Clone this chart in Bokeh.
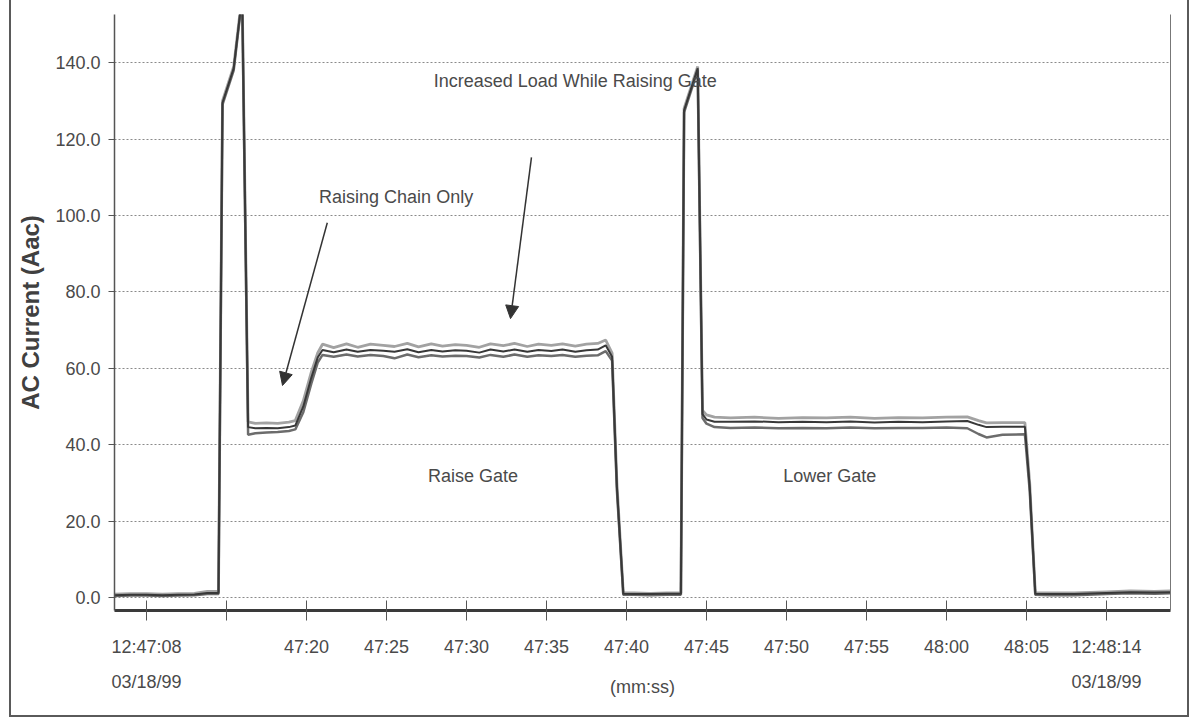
from bokeh.plotting import figure
from bokeh.models import (FixedTicker, LinearAxis, Label, Arrow, NormalHead,
                          Range1d, PrintfTickFormatter)
from bokeh.embed import file_html
from bokeh.resources import INLINE

# time in seconds after 12:47:00 (03/18/99)
t_sec = [8.0, 9.0, 10.0, 11.0, 12.0, 13.0, 13.8, 14.5,
         14.75, 15.45, 15.98,
         16.35, 16.8, 17.5, 18.2, 18.9, 19.3,
         19.8, 20.3, 20.7, 21.0,
         21.7, 22.5, 23.2, 24.0, 24.8, 25.5, 26.3, 27.0, 27.8, 28.5, 29.3, 30.0,
         30.8, 31.5, 32.3, 33.0, 33.8, 34.5, 35.3, 36.0, 36.8, 37.5, 38.2, 38.7,
         39.1, 39.4, 39.8,
         40.5, 41.5, 42.5, 43.4,
         43.6, 44.45, 44.75, 45.0, 45.5,
         46.5, 48.0, 49.5, 51.0, 52.5, 54.0, 55.5, 57.0, 58.5, 60.0, 61.3, 62.0, 62.5, 63.5, 64.9,
         65.2, 65.55,
         66.5, 68.0, 70.0, 71.5, 73.0, 74.0]

current_top = [0.9, 1.0, 1.0, 0.9, 1.0, 1.1, 1.6, 1.6,
               130.0, 139.0, 158.0,
               46.0, 45.6, 45.7, 45.6, 45.9, 46.3,
               51.5, 59.0, 64.0, 66.3,
               65.4, 66.4, 65.5, 66.3, 66.0, 65.7, 66.5, 65.6, 66.4, 65.8, 66.2, 66.0,
               65.5, 66.4, 65.9, 66.5, 65.7, 66.3, 66.0, 66.4, 65.8, 66.3, 66.5, 67.4,
               64.0, 30.0, 1.2,
               1.2, 1.1, 1.2, 1.2,
               128.0, 139.0, 49.0, 47.8, 47.2,
               47.0, 47.2, 46.9, 47.1, 47.0, 47.2, 46.9, 47.1, 47.0, 47.2, 47.3, 46.3, 45.7, 45.8, 45.8,
               30.0, 1.3,
               1.2, 1.2, 1.5, 1.7, 1.6, 1.7]

current_mid = [0.6, 0.7, 0.7, 0.6, 0.7, 0.8, 1.2, 1.2,
               129.5, 138.5, 157.5,
               44.6, 44.3, 44.4, 44.3, 44.6, 45.0,
               50.0, 57.5, 62.8, 64.8,
               64.2, 64.9, 64.3, 64.8, 64.6, 64.3, 65.0, 64.2, 64.8, 64.4, 64.7, 64.6,
               64.1, 64.9, 64.4, 64.9, 64.3, 64.8, 64.5, 64.9, 64.3, 64.7, 64.9, 66.0,
               63.0, 29.0, 1.0,
               0.9, 0.9, 1.0, 1.0,
               127.5, 138.5, 48.0, 46.6, 46.0,
               46.0, 46.1, 45.9, 46.0, 45.9, 46.1, 45.8, 46.0, 45.9, 46.1, 46.2, 45.2, 44.6, 44.7, 44.7,
               29.0, 1.0,
               0.9, 0.9, 1.2, 1.4, 1.3, 1.4]

current_low = [0.4, 0.5, 0.5, 0.4, 0.5, 0.6, 0.9, 0.9,
               129.0, 138.0, 157.0,
               42.6, 43.0, 43.2, 43.3, 43.6, 44.0,
               48.5, 56.0, 61.5, 63.5,
               63.0, 63.6, 63.1, 63.5, 63.2, 62.6, 63.6, 62.9, 63.4, 63.1, 63.3, 63.2,
               62.8, 63.5, 63.0, 63.6, 63.0, 63.4, 63.2, 63.5, 63.0, 63.3, 63.4, 64.5,
               62.0, 28.0, 0.7,
               0.7, 0.6, 0.7, 0.7,
               127.0, 138.0, 47.0, 45.5, 44.6,
               44.4, 44.5, 44.3, 44.4, 44.3, 44.5, 44.3, 44.4, 44.4, 44.5, 44.3, 42.8, 41.9, 42.6, 42.7,
               28.0, 0.7,
               0.6, 0.6, 0.9, 1.1, 1.0, 1.1]

y_ticks = [0, 20, 40, 60, 80, 100, 120, 140]
x_ticks = [10, 15, 20, 25, 30, 35, 40, 45, 50, 55, 60, 65, 70]
x_tick_labels = ["12:47:08\n03/18/99", "", "47:20", "47:25", "47:30", "47:35", "47:40",
                 "47:45", "47:50", "47:55", "48:00", "48:05", "12:48:14\n03/18/99"]

FONT = "Liberation Sans"
TXT = "#4a4a4a"
BORDER = "2px solid #5a5a5a"

p = figure(frame_width=1056, frame_height=596,
           min_border_left=103, min_border_right=17, min_border_top=14, min_border_bottom=105,
           x_range=Range1d(8, 74), y_range=Range1d(-3.4, 152.6),
           output_backend="svg", toolbar_location=None)
p.outline_line_color = None
p.background_fill_color = "white"
p.border_fill_color = "white"
p.styles = {"margin-left": "9px", "border-left": BORDER, "border-right": BORDER,
            "border-bottom": BORDER}

# grid
p.xgrid.visible = False
p.ygrid.ticker = FixedTicker(ticks=y_ticks)
p.ygrid.grid_line_color = "#8a8a8a"
p.ygrid.grid_line_dash = "2 2"
p.ygrid.grid_line_width = 1

# y axis
ya = p.yaxis[0]
ya.ticker = FixedTicker(ticks=y_ticks)
ya.formatter = PrintfTickFormatter(format="%.1f")
ya.axis_line_color = "#555555"
ya.axis_line_width = 1.5
ya.major_tick_in = 0
ya.major_tick_out = 6
ya.major_tick_line_color = "#555555"
ya.minor_tick_line_color = None
ya.major_label_standoff = 8
ya.major_label_text_font = FONT
ya.major_label_text_font_size = "18px"
ya.major_label_text_color = TXT
ya.axis_label = "AC Current (Aac)"
ya.axis_label_text_font = FONT
ya.axis_label_text_font_style = "bold"
ya.axis_label_text_font_size = "24px"
ya.axis_label_text_color = "#404040"
ya.axis_label_standoff = 8

# x axis
xa = p.xaxis[0]
xa.ticker = FixedTicker(ticks=x_ticks)
xa.major_label_overrides = {k: v for k, v in zip(x_ticks, x_tick_labels)}
xa.axis_line_color = "#3a3a3a"
xa.axis_line_width = 3
xa.major_tick_in = 10
xa.major_tick_out = 10
xa.major_tick_line_color = "#555555"
xa.minor_tick_line_color = None
xa.major_label_standoff = 16
xa.major_label_text_font = FONT
xa.major_label_text_font_size = "18px"
xa.major_label_text_line_height = 1.75
xa.major_label_text_color = TXT
xa.axis_label = "(mm:ss)"
xa.axis_label_text_font = FONT
xa.axis_label_text_font_style = "normal"
xa.axis_label_text_font_size = "18px"
xa.axis_label_text_color = TXT
xa.axis_label_standoff = -18

# right frame line
ra = LinearAxis(ticker=FixedTicker(ticks=[]), axis_line_color="#777777",
                major_tick_line_color=None, minor_tick_line_color=None)
p.add_layout(ra, "right")

# data lines
p.line(t_sec, current_top, line_color="#a2a2a2", line_width=2.8)
p.line(t_sec, current_low, line_color="#6c6c6c", line_width=2.5)
p.line(t_sec, current_mid, line_color="#383838", line_width=2)

# annotations
def lab(x, y, text):
    p.add_layout(Label(x=x, y=y, text=text, text_font=FONT, text_font_size="18px",
                       text_color=TXT, text_align="center", text_baseline="middle"))

lab(36.8, 135.3, "Increased Load While Raising Gate")
lab(25.6, 104.9, "Raising Chain Only")
lab(30.4, 31.7, "Raise Gate")
lab(52.7, 31.7, "Lower Gate")

for xs, ys, xe, ye in [(21.3, 98.1, 18.5, 55.5), (34.06, 115.2, 32.75, 73.0)]:
    p.add_layout(Arrow(x_start=xs, y_start=ys, x_end=xe, y_end=ye,
                       line_color="#333333", line_width=1.5,
                       end=NormalHead(size=13, fill_color="#333333", line_color="#333333")))

open("out.html", "w").write(file_html(p, INLINE))
